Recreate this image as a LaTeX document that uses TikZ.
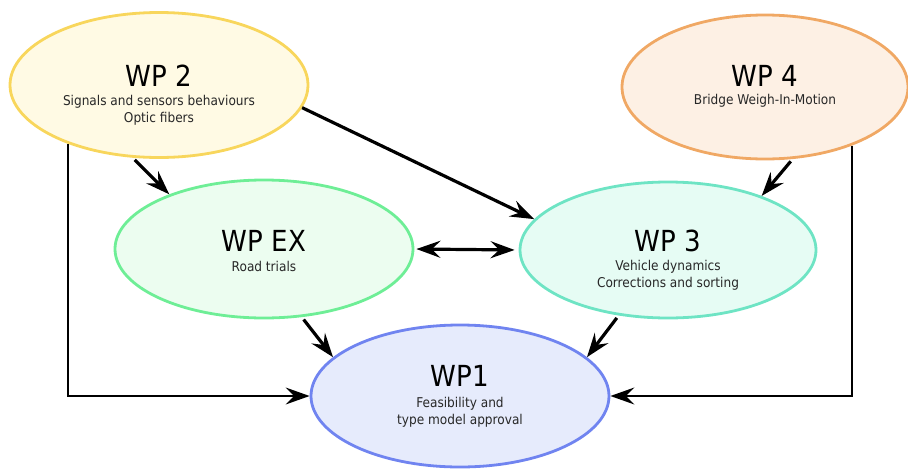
\documentclass[tikz,border=0pt]{standalone}
\usepackage{fontspec}
\setmainfont{DejaVu Sans Condensed}
\usetikzlibrary{shapes.geometric,arrows.meta}

\definecolor{wptwofill}{RGB}{255,250,228}
\definecolor{wptwoline}{RGB}{248,214,92}
\definecolor{wpfourfill}{RGB}{253,240,228}
\definecolor{wpfourline}{RGB}{240,168,100}
\definecolor{wpexfill}{RGB}{236,253,240}
\definecolor{wpexline}{RGB}{110,238,150}
\definecolor{wpthreefill}{RGB}{230,252,244}
\definecolor{wpthreeline}{RGB}{110,228,196}
\definecolor{wponefill}{RGB}{230,235,252}
\definecolor{wponeline}{RGB}{112,132,240}
\definecolor{labeltext}{RGB}{40,40,40}

\tikzset{
  wpbox/.style={ellipse, line width=2.8pt, inner sep=0pt},
  wptitle/.style={font=\fontsize{29}{32}\selectfont, text=black, inner sep=0pt},
  wpsub/.style={font=\fontsize{13.5}{17}\selectfont, text=labeltext, align=center, inner sep=0pt},
  head/.tip={Stealth[length=24pt,width=17pt,inset=8.5pt]},
  flow/.style={-head, line width=3.2pt, black},
  feed/.style={-head, line width=1.6pt, black},
}

\begin{document}
\begin{tikzpicture}[x=1pt,y=-1pt]
\useasboundingbox (0,0) rectangle (908,469);

% work packages
\node[wpbox, draw=wptwoline, fill=wptwofill, minimum width=298pt, minimum height=145pt] (wp2) at (159,85) {};
\node[wptitle] (wp2t) at (159,76) {WP 2};
\node[wpsub] (wp2s) at (159,110) {Signals and sensors behaviours\\Optic fibers};

\node[wpbox, draw=wpfourline, fill=wpfourfill, minimum width=286pt, minimum height=144pt] (wp4) at (765,87) {};
\node[wptitle] (wp4t) at (765,76) {WP 4};
\node[wpsub] (wp4s) at (765,101) {Bridge Weigh-In-Motion};

\node[wpbox, draw=wpexline, fill=wpexfill, minimum width=298pt, minimum height=138pt] (wpex) at (264,249) {};
\node[wptitle] (wpext) at (264,241) {WP EX};
\node[wpsub] (wpexs) at (264,266) {Road trials};

\node[wpbox, draw=wpthreeline, fill=wpthreefill, minimum width=296pt, minimum height=136pt] (wp3) at (668,250) {};
\node[wptitle] (wp3t) at (668,241) {WP 3};
\node[wpsub] (wp3s) at (668,275) {Vehicle dynamics\\Corrections and sorting};

\node[wpbox, draw=wponeline, fill=wponefill, minimum width=298pt, minimum height=142pt] (wp1) at (460,396) {};
\node[wptitle] (wp1t) at (460,376) {WP1};
\node[wpsub] (wp1s) at (460,412) {Feasibility and\\type model approval};

% dependencies
\draw[flow, shorten <=3pt] (wp2.250) -- (wpex.150);
\draw[flow] (wp2.-9) -- (wp3.167);
\draw[flow, head-head, shorten <=2pt, shorten >=4pt] (wpex.east) -- (wp3.west);
\draw[flow, shorten <=3pt] (wp4.-69) -- (wp3.30);
\draw[flow, shorten <=3pt] (wpex.-61) -- (wp1.163);
\draw[flow, shorten <=3pt] (wp3.233) -- (wp1.17);

% direct feeds into WP1
\draw[feed] (wp2.213) |- (wp1.west);
\draw[feed] (wp4.-34) |- (wp1.east);
\end{tikzpicture}
\end{document}
